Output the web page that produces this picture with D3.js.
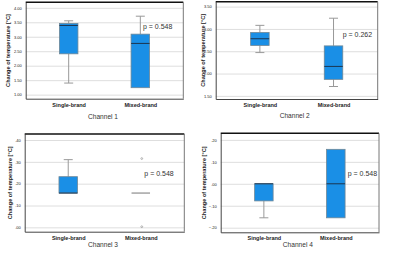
<!DOCTYPE html>
<html>
<head>
<meta charset="utf-8">
<script src="https://cdn.jsdelivr.net/npm/d3@7"></script>
<style>
  body { margin: 0; background: #fff; }
  svg { display: block; font-family: Arial, "Liberation Sans", sans-serif; }
</style>
</head>
<body>
<script>
// data
var categories = ["Single-brand", "Mixed-brand"];
var channels = ["Channel 1", "Channel 2", "Channel 3", "Channel 4"];
var pValues = ["p = 0.548", "p = 0.262", "p = 0.548", "p = 0.548"];

// [min, q1, median, q3, max] for single / mixed
var ch1Stats = [[1.40, 2.41, 3.39, 3.46, 3.55], [1.24, 1.24, 2.77, 3.09, 3.71]];
var ch2Stats = [[2.47, 2.63, 2.78, 2.92, 3.08], [1.71, 1.87, 2.16, 2.62, 3.24]];
var ch3Stats = [[0.157, 0.157, 0.157, 0.232, 0.31], [0.157, 0.157, 0.157, 0.157, 0.157]];
var ch4Stats = [[-0.155, -0.078, 0, 0, 0], [-0.155, -0.155, 0, 0.157, 0.157]];

var ch1Outliers = [[], []];
var ch2Outliers = [[], []];
var ch3Outliers = [[], [0.315, 0.003]];
var ch4Outliers = [[], []];

var ch1Ticks = [1.0, 1.5, 2.0, 2.5, 3.0, 3.5, 4.0];
var ch2Ticks = [1.5, 2.0, 2.5, 3.0, 3.5];
var ch3Ticks = [0, 0.1, 0.2, 0.3, 0.4];
var ch4Ticks = [-0.2, -0.1, 0, 0.1, 0.2];

var ch1Domain = [0.86, 4.19];
var ch2Domain = [1.43, 3.61];
var ch3Domain = [-0.02, 0.4275];
var ch4Domain = [-0.221, 0.23];

var f2 = d3.format(".2f");
function noLead(d) { return f2(d).replace("0.", "."); }

// layout of the four panels
var panels = [
  { stats: ch1Stats, outl: ch1Outliers, ticks: ch1Ticks, domain: ch1Domain, fmt: f2,
    l: 25.7, r: 183.3, t: 2.3, b: 98.7, ylx: 7.7, chy: 118.5, px: 143, py: 27 },
  { stats: ch2Stats, outl: ch2Outliers, ticks: ch2Ticks, domain: ch2Domain, fmt: f2,
    l: 215.7, r: 377.7, t: 1.7, b: 99, ylx: 202.7, chy: 118.2, px: 342.7, py: 35 },
  { stats: ch3Stats, outl: ch3Outliers, ticks: ch3Ticks, domain: ch3Domain, fmt: noLead,
    l: 24.7, r: 184.3, t: 134, b: 231.7, ylx: 10, chy: 247.2, px: 144.3, py: 173.3 },
  { stats: ch4Stats, outl: ch4Outliers, ticks: ch4Ticks, domain: ch4Domain, fmt: noLead,
    l: 220.7, r: 379, t: 133.3, b: 232.3, ylx: 204, chy: 246.8, px: 347.7, py: 173.3 }
];

var svg = d3.select("body").append("svg")
  .attr("width", 400)
  .attr("height", 253);

var boxW = 18.5, capW = 9;

panels.forEach(function (p, i) {
  var g = svg.append("g");

  var y = d3.scaleLinear().domain(p.domain).range([p.b, p.t]);
  var x = d3.scalePoint().domain(categories).range([p.l, p.r]).padding(0.6);

  // grid
  g.append("g")
    .attr("transform", "translate(" + p.l + ",0)")
    .call(d3.axisLeft(y).tickValues(p.ticks).tickSize(-(p.r - p.l)).tickFormat(""))
    .call(function (s) {
      s.select(".domain").remove();
      s.selectAll("line").attr("stroke", "#dedede").attr("stroke-width", 1);
    });

  // y axis
  g.append("g")
    .attr("transform", "translate(" + p.l + ",0)")
    .call(d3.axisLeft(y).tickValues(p.ticks).tickSize(0).tickPadding(4).tickFormat(p.fmt))
    .call(function (s) {
      s.select(".domain").attr("stroke", "#444");
      s.selectAll("text").attr("font-size", "4px").attr("fill", "#222").attr("font-family", "Arial, sans-serif");
    });

  // x axis
  g.append("g")
    .attr("transform", "translate(0," + p.b + ")")
    .call(d3.axisBottom(x).tickSize(0).tickPadding(4))
    .call(function (s) {
      s.select(".domain").attr("stroke", "#444");
      s.selectAll("text").attr("font-size", "5.5px").attr("font-weight", "bold")
        .attr("fill", "#222").attr("font-family", "Arial, sans-serif");
    });

  // frame top and right
  g.append("line").attr("x1", p.l).attr("x2", p.r).attr("y1", p.t).attr("y2", p.t)
    .attr("stroke", "#111").attr("stroke-width", 1.5);
  g.append("line").attr("x1", p.r).attr("x2", p.r).attr("y1", p.t).attr("y2", p.b)
    .attr("stroke", "#777").attr("stroke-width", 1);

  // boxes
  p.stats.forEach(function (s, j) {
    var cx = x(categories[j]);
    var bg = g.append("g");
    // whiskers
    bg.append("line").attr("x1", cx).attr("x2", cx).attr("y1", y(s[4])).attr("y2", y(s[3]))
      .attr("stroke", "#999").attr("stroke-width", 1);
    bg.append("line").attr("x1", cx).attr("x2", cx).attr("y1", y(s[1])).attr("y2", y(s[0]))
      .attr("stroke", "#999").attr("stroke-width", 1);
    if (s[4] > s[3]) {
      bg.append("line").attr("x1", cx - capW / 2).attr("x2", cx + capW / 2)
        .attr("y1", y(s[4])).attr("y2", y(s[4])).attr("stroke", "#999");
    }
    if (s[0] < s[1]) {
      bg.append("line").attr("x1", cx - capW / 2).attr("x2", cx + capW / 2)
        .attr("y1", y(s[0])).attr("y2", y(s[0])).attr("stroke", "#999");
    }
    if (s[3] > s[1]) {
      bg.append("rect")
        .attr("x", cx - boxW / 2)
        .attr("y", y(s[3]))
        .attr("width", boxW)
        .attr("height", y(s[1]) - y(s[3]))
        .attr("fill", "#1a8fe6")
        .attr("stroke", "#6f8796")
        .attr("stroke-width", 0.8);
      bg.append("line").attr("x1", cx - boxW / 2).attr("x2", cx + boxW / 2)
        .attr("y1", y(s[2])).attr("y2", y(s[2]))
        .attr("stroke", "#1b3550").attr("stroke-width", 1);
    } else {
      bg.append("line").attr("x1", cx - boxW / 2).attr("x2", cx + boxW / 2)
        .attr("y1", y(s[2])).attr("y2", y(s[2]))
        .attr("stroke", "#777").attr("stroke-width", 1);
    }
    // outliers
    bg.selectAll("circle").data(p.outl[j]).enter().append("circle")
      .attr("cx", cx + 1)
      .attr("cy", function (d) { return y(d); })
      .attr("r", 0.9)
      .attr("fill", "none")
      .attr("stroke", "#888")
      .attr("stroke-width", 0.6);
  });

  // y label
  g.append("text")
    .attr("transform", "translate(" + p.ylx + "," + ((p.t + p.b) / 2) + ") rotate(-90)")
    .attr("text-anchor", "middle")
    .attr("dy", "0.35em")
    .attr("font-size", "5.6px")
    .attr("font-weight", "bold")
    .attr("fill", "#222")
    .text("Change of temperature [°C]");

  // channel label
  g.append("text")
    .attr("x", (p.l + p.r) / 2 + (i % 2 === 0 ? -1.5 : -2))
    .attr("y", p.chy)
    .attr("text-anchor", "middle")
    .attr("font-size", "6.6px")
    .attr("fill", "#333")
    .text(channels[i]);

  // p value
  g.append("text")
    .attr("x", p.px)
    .attr("y", p.py)
    .attr("dy", "0.35em")
    .attr("font-size", "7px")
    .attr("fill", "#333")
    .text(pValues[i]);
});
</script>
</body>
</html>
